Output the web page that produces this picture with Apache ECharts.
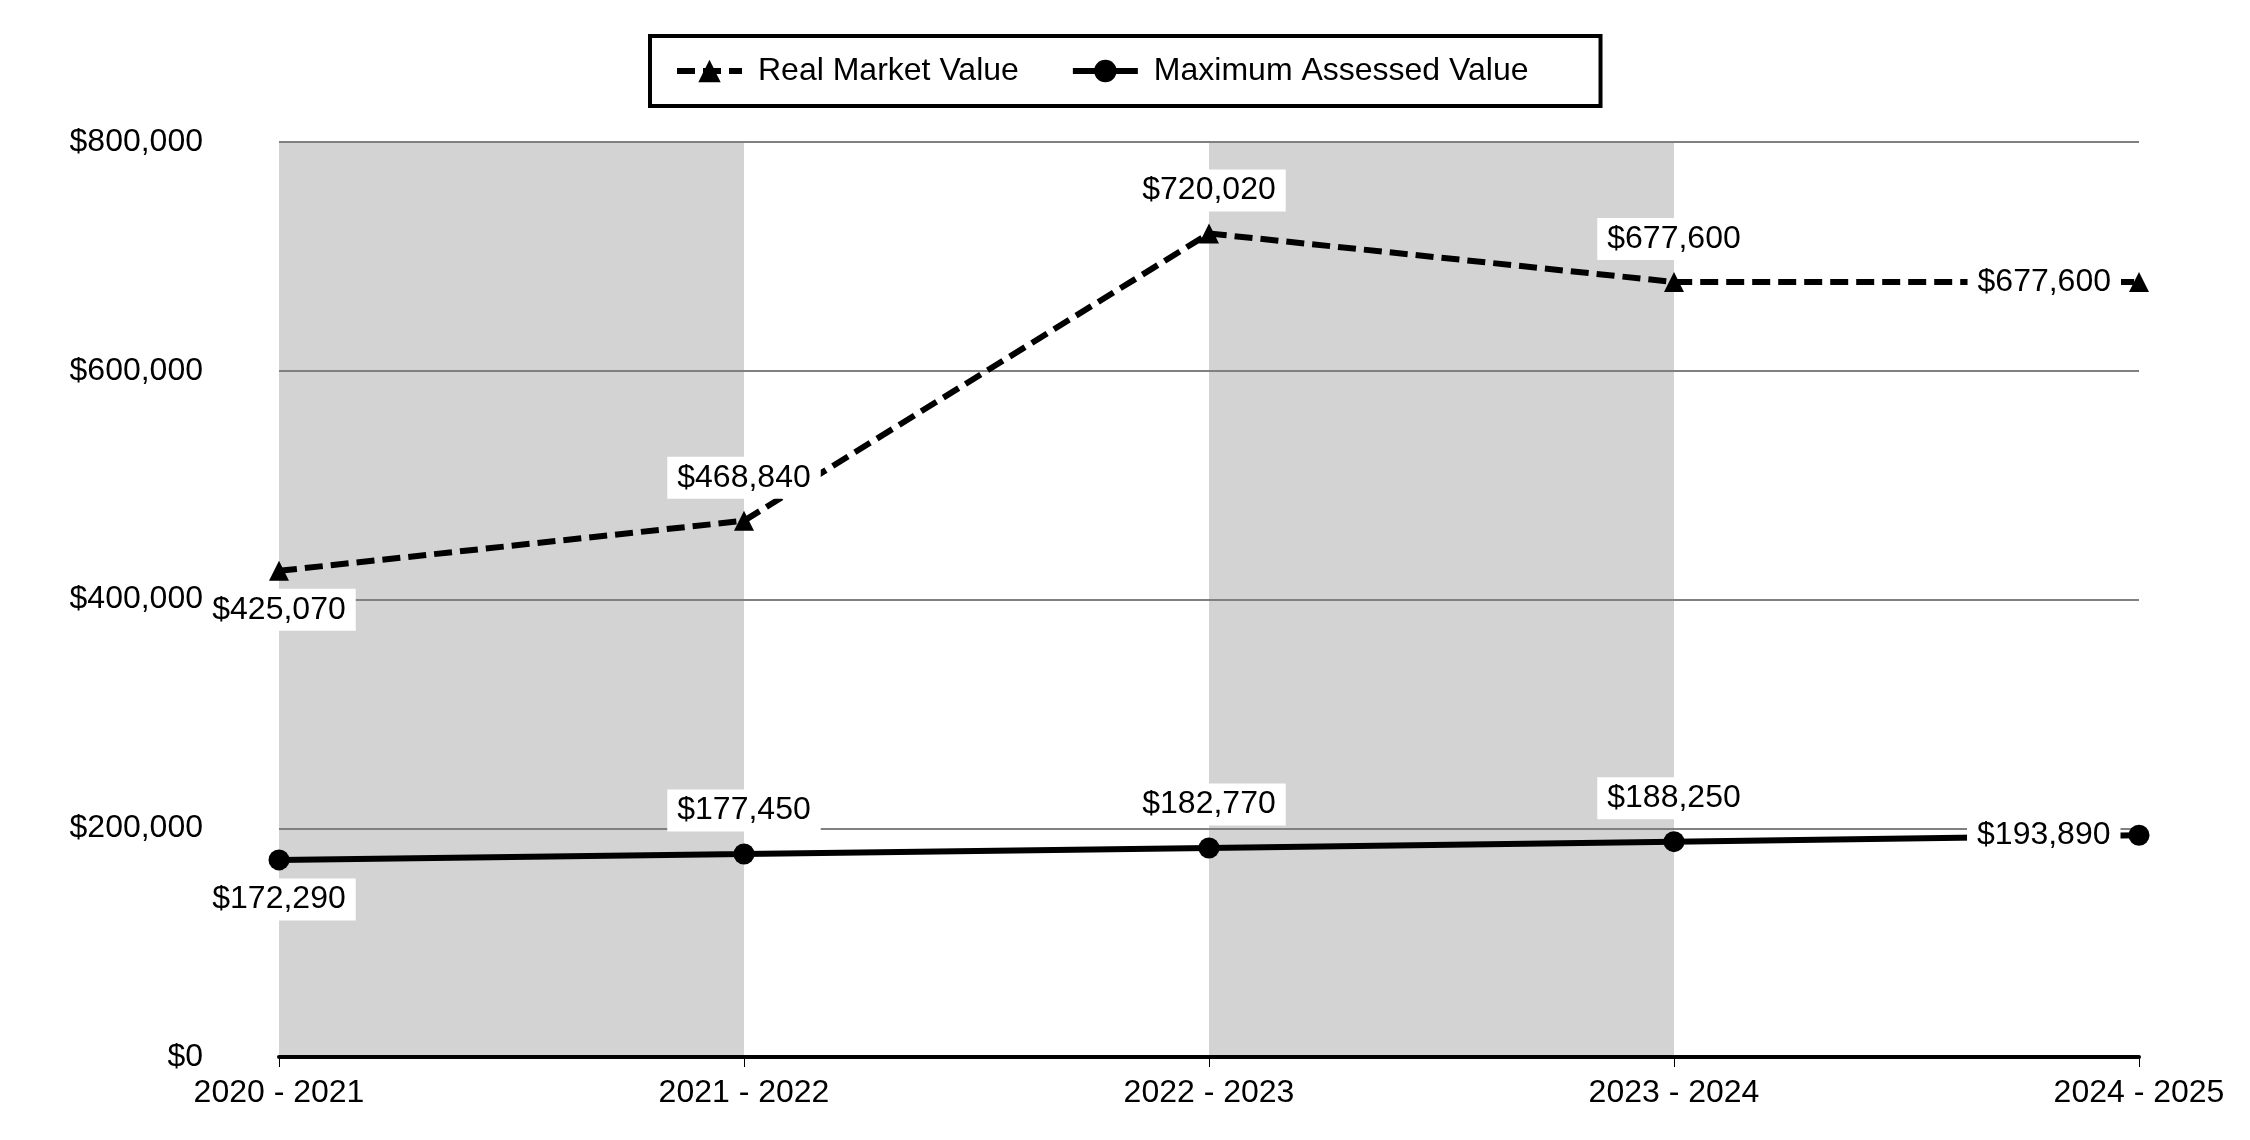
<!DOCTYPE html>
<html>
<head>
<meta charset="utf-8">
<script src="https://cdn.jsdelivr.net/npm/echarts@6/dist/echarts.min.js"></script>
<style>
html,body{margin:0;padding:0;background:#fff;}
#chart{width:2250px;height:1140px;}
</style>
</head>
<body>
<div id="chart"></div>
<script>
// ---- data ----
var categories = ['2020 - 2021', '2021 - 2022', '2022 - 2023', '2023 - 2024', '2024 - 2025'];
var realMarketValue = [425070, 468840, 720020, 677600, 677600];
var maxAssessedValue = [172290, 177450, 182770, 188250, 193890];
var yTicks = [0, 200000, 400000, 600000, 800000];

// label placement (style, kept apart from data)
var rmvLabelPos = ['bottom', 'top', 'top', 'top', 'left'];
var mavLabelPos = ['bottom', 'top', 'top', 'top', 'left'];

function money(v) {
  var s = Math.round(v).toString().replace(/\B(?=(\d{3})+(?!\d))/g, ',');
  return '$' + s;
}

var FONT = "'Liberation Sans', Arial, sans-serif";

function buildData(values, positions) {
  return values.map(function (v, i) {
    var p = positions[i];
    return {
      value: v,
      label: {
        position: p,
        distance: p === 'top' ? 12 : 8
      }
    };
  });
}

var labelStyle = {
  show: true,
  formatter: function (p) { return money(p.value); },
  color: '#000',
  fontFamily: FONT,
  fontSize: 32,
  backgroundColor: '#fff',
  padding: [5, 10, 5, 10]
};

var chart = echarts.init(document.getElementById('chart'));
chart.setOption({
  animation: false,
  backgroundColor: '#fff',
  textStyle: { fontFamily: FONT },
  legend: {
    left: 650,
    top: 36,
    orient: 'horizontal',
    padding: [19, 72, 19, 24],
    borderColor: '#000',
    borderWidth: 4,
    itemWidth: 65,
    itemHeight: 28,
    itemGap: 51,
    lineStyle: { width: 6 },
    textStyle: { fontFamily: FONT, fontSize: 32, color: '#000', padding: [0, 0, 0, 11] },
    data: ['Real Market Value', 'Maximum Assessed Value']
  },
  grid: { left: 279, right: 111, top: 142, bottom: 83, containLabel: false },
  xAxis: [
    {
      type: 'category',
      data: categories,
      boundaryGap: false,
      z: 3,
      axisLine: { show: true, lineStyle: { color: '#000', width: 4 } },
      axisTick: { show: true, length: 10, lineStyle: { color: '#000', width: 1 } },
      axisLabel: { color: '#000', fontFamily: FONT, fontSize: 32, margin: 20, interval: 0 },
      splitLine: { show: false },
      splitArea: { show: false }
    },
    {
      type: 'category',
      data: categories,
      boundaryGap: false,
      position: 'bottom',
      z: 0,
      axisLine: { show: false },
      axisTick: { show: false },
      axisLabel: { show: false },
      splitLine: { show: false },
      splitArea: { show: true, areaStyle: { color: ['#d3d3d3', 'rgba(255,255,255,0)'] } }
    }
  ],
  yAxis: {
    type: 'value',
    min: yTicks[0],
    max: yTicks[yTicks.length - 1],
    interval: yTicks[1] - yTicks[0],
    z: 1,
    axisLine: { show: false },
    axisTick: { show: false },
    axisLabel: { color: '#000', fontFamily: FONT, fontSize: 32, margin: 76, formatter: money },
    splitLine: { show: true, lineStyle: { color: '#808080', width: 2 } }
  },
  series: [
    {
      name: 'Real Market Value',
      type: 'line',
      xAxisIndex: 0,
      data: buildData(realMarketValue, rmvLabelPos),
      symbol: 'triangle',
      symbolSize: 20,
      lineStyle: { color: '#000', width: 6, type: [18, 8] },
      itemStyle: { color: '#000' },
      label: labelStyle,
      z: 4
    },
    {
      name: 'Maximum Assessed Value',
      type: 'line',
      xAxisIndex: 0,
      data: buildData(maxAssessedValue, mavLabelPos),
      symbol: 'circle',
      symbolSize: 21,
      lineStyle: { color: '#000', width: 6, type: 'solid' },
      itemStyle: { color: '#000' },
      label: labelStyle,
      z: 4
    }
  ]
});
</script>
</body>
</html>
